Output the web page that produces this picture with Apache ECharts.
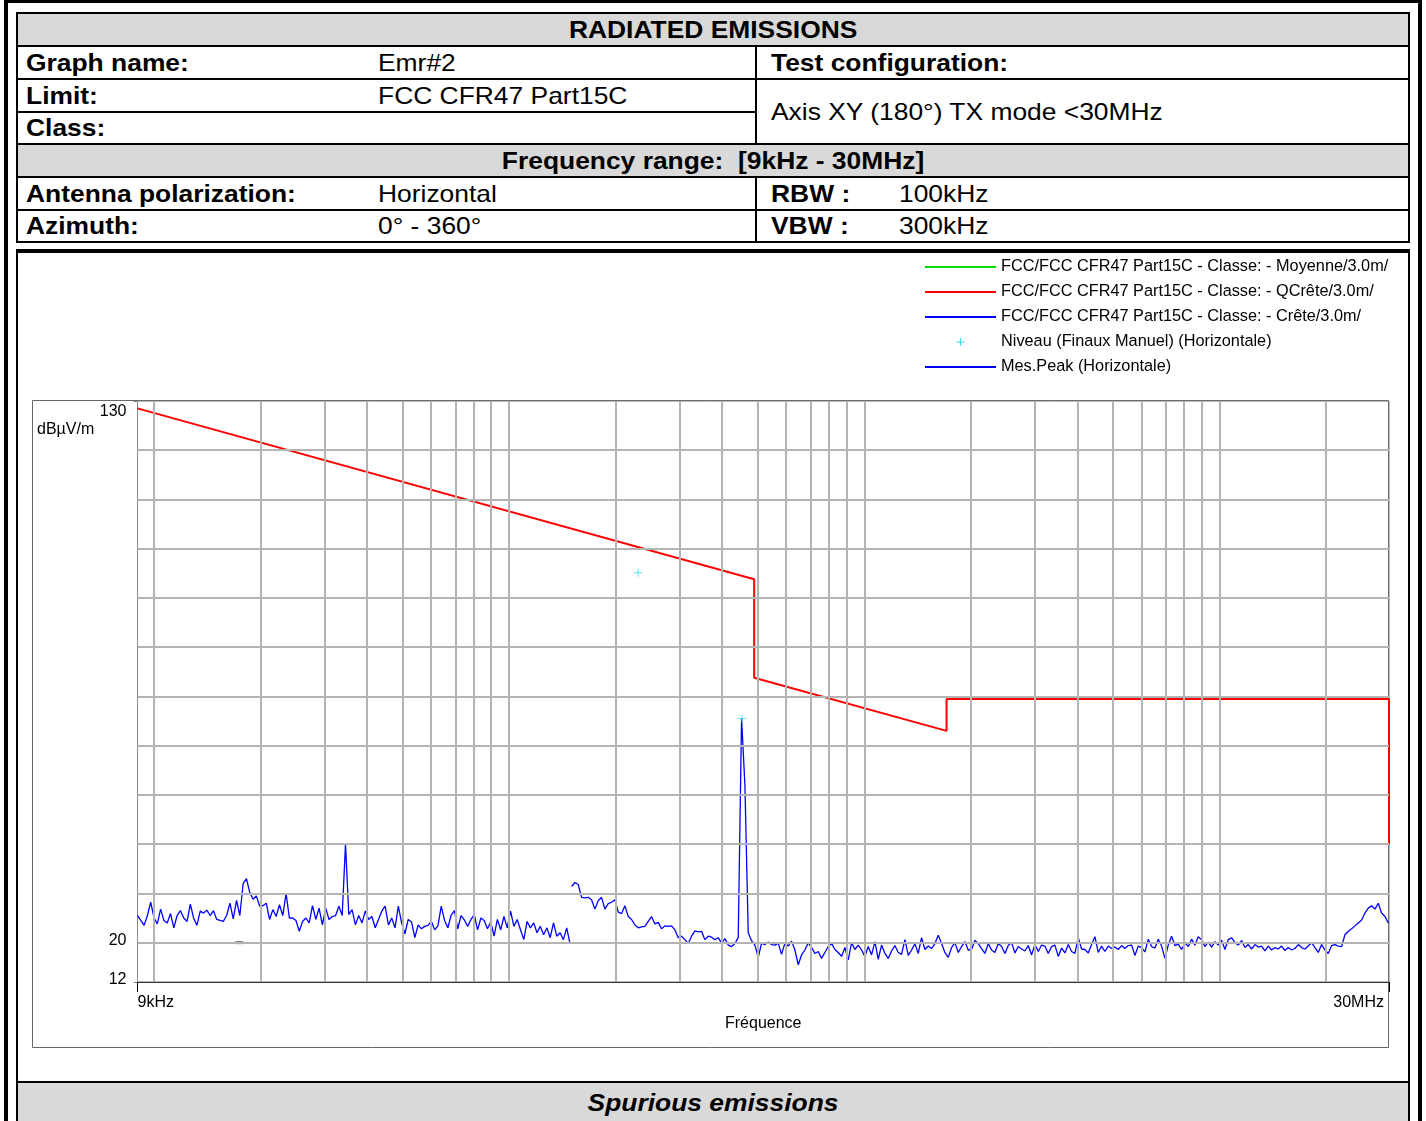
<!DOCTYPE html>
<html><head><meta charset="utf-8">
<script src="https://cdn.jsdelivr.net/npm/echarts@6/dist/echarts.min.js"></script>
<style>
html,body{margin:0;padding:0;background:#fff;}
body{width:1426px;height:1121px;overflow:hidden;position:relative;font-family:"Liberation Sans",Arial,sans-serif;}
.hl{position:absolute;height:2px;background:#000;}
.vl{position:absolute;width:2px;background:#000;}
.g{position:absolute;background:#d9d9d9;}
.t{position:absolute;font-size:24px;line-height:32px;height:32px;white-space:pre;color:#000;}
.t span{display:inline-block;transform:scaleX(1.1);transform-origin:left center;}
.c{text-align:center;}
.c span{transform-origin:center center;}
.b{font-weight:bold;}
#chart{position:absolute;left:0;top:0;width:1426px;height:1121px;z-index:5;}
</style></head>
<body>
<!-- outer frame -->
<div style="position:absolute;left:4px;top:0;width:1410px;height:1200px;border-left:4px solid #000;border-right:4px solid #000;border-top:3px solid #000;"></div>
<!-- header table -->
<div style="position:absolute;left:16px;top:12px;width:1394px;height:231px;border:2px solid #000;box-sizing:border-box;"></div>
<div class="g" style="left:18px;top:14px;width:1390px;height:31px;"></div>
<div class="hl" style="left:16px;top:45px;width:1394px;"></div>
<div class="hl" style="left:16px;top:78px;width:1394px;"></div>
<div class="hl" style="left:16px;top:111px;width:740px;"></div>
<div class="hl" style="left:16px;top:143px;width:1394px;"></div>
<div class="g" style="left:18px;top:145px;width:1390px;height:31px;"></div>
<div class="hl" style="left:16px;top:176px;width:1394px;"></div>
<div class="hl" style="left:16px;top:209px;width:1394px;"></div>
<div class="vl" style="left:755px;top:47px;height:96px;"></div>
<div class="vl" style="left:755px;top:178px;height:63px;"></div>

<div class="t c b" style="left:18px;top:14px;width:1390px;"><span>RADIATED EMISSIONS</span></div>
<div class="t b" style="left:26px;top:47px;"><span>Graph name:</span></div>
<div class="t" style="left:378px;top:47px;"><span>Emr#2</span></div>
<div class="t b" style="left:771px;top:47px;"><span>Test configuration:</span></div>
<div class="t b" style="left:26px;top:80px;"><span>Limit:</span></div>
<div class="t" style="left:378px;top:80px;"><span>FCC CFR47 Part15C</span></div>
<div class="t b" style="left:26px;top:112px;"><span>Class:</span></div>
<div class="t" style="left:771px;top:96px;"><span>Axis XY (180°) TX mode &lt;30MHz</span></div>
<div class="t c b" style="left:18px;top:145px;width:1390px;"><span>Frequency range:  [9kHz - 30MHz]</span></div>
<div class="t b" style="left:26px;top:178px;"><span>Antenna polarization:</span></div>
<div class="t" style="left:378px;top:178px;"><span>Horizontal</span></div>
<div class="t b" style="left:771px;top:178px;"><span>RBW :</span></div>
<div class="t" style="left:899px;top:178px;"><span>100kHz</span></div>
<div class="t b" style="left:26px;top:210px;"><span>Azimuth:</span></div>
<div class="t" style="left:378px;top:210px;"><span>0° - 360°</span></div>
<div class="t b" style="left:771px;top:210px;"><span>VBW :</span></div>
<div class="t" style="left:899px;top:210px;"><span>300kHz</span></div>

<!-- chart section frame -->
<div style="position:absolute;left:16px;top:249px;width:1394px;height:4px;background:#000;"></div>
<div class="vl" style="left:16px;top:249px;height:900px;"></div>
<div class="vl" style="left:1408px;top:249px;height:900px;"></div>
<div class="hl" style="left:16px;top:1081px;width:1394px;"></div>
<div class="g" style="left:18px;top:1083px;width:1390px;height:60px;"></div>
<div class="t c b" style="left:18px;top:1087px;width:1390px;font-style:italic;"><span>Spurious emissions</span></div>

<div id="chart"></div>
<script>
// ---------------- DATA ----------------
const legendNames = [
  'FCC/FCC CFR47 Part15C - Classe: - Moyenne/3.0m/',
  'FCC/FCC CFR47 Part15C - Classe: - QCrête/3.0m/',
  'FCC/FCC CFR47 Part15C - Classe: - Crête/3.0m/',
  'Niveau (Finaux Manuel) (Horizontale)',
  'Mes.Peak (Horizontale)'
];
const xTickLabels = ['9kHz', '30MHz'];
const yTickLabels = [12, 20, 130];

// QCrête limit (frequency in kHz, level in dBµV/m)
const limitFreqKHz = [9, 490, 490, 1705, 1705, 30000, 30000];
const limitLevels  = [128.5, 93.8, 73.8, 63.0, 69.5, 69.5, 40.0];

// Final manual levels (cyan markers)
const niveauFreqKHz = [230.8, 452.8];
const niveauLevels  = [95.1, 65.5];

// small grey dash on the trace plot
const dashFreqKHz = [17.4];
const dashLevels  = [20.0];

// Peak trace, band 1 (9 kHz - 148.5 kHz), log-spaced sweep points
const band1StartKHz = 9, band1StopKHz = 148.5;
const band1Levels = [
  25.5,24.5,23.5,25.5,28.2,25.0,23.8,26.8,24.5,24.0,
  25.9,23.0,25.5,26.5,25.0,24.3,27.8,25.0,23.5,26.4,
  26.0,26.6,25.5,26.5,24.7,24.5,24.3,25.5,28.0,24.8,
  28.6,25.5,32.0,33.0,30.2,28.8,29.5,27.4,27.5,28.0,
  24.7,26.7,25.3,27.7,25.5,30.0,25.0,25.0,24.5,22.3,
  24.3,25.0,24.0,27.5,24.7,27.0,23.6,27.0,24.7,25.3,
  25.5,27.4,25.5,40.0,25.7,
  26.7,23.6,25.5,24.0,26.4,24.7,25.3,23.0,24.7,26.4,
  27.4,23.6,25.0,23.0,27.4,24.0,21.8,24.7,24.2,21.0,
  23.6,22.8,23.3,23.5,24.3,22.6,23.4,27.4,24.5,23.0,
  25.6,26.5,22.8,25.5,24.6,23.3,24.7,25.7,22.6,25.0,
  24.5,22.8,24.2,21.3,24.7,22.6,25.3,23.0,26.4,23.3,
  24.7,22.6,20.6,24.3,23.0,24.0,22.0,23.3,21.6,23.0,
  21.0,24.0,21.3,22.0,20.6,23.0,19.8
];

// Peak trace, band 2 (150 kHz - 29.86 MHz), log-spaced sweep points
const band2StartKHz = 150, band2StopKHz = 29860;
const band2Levels = [
  31.4,32.2,31.8,29.2,29.1,29.2,28.7,26.8,28.5,29.2,
  26.8,27.9,28.2,28.7,26.2,25.9,27.5,25.3,24.7,23.6,
  23.0,23.2,23.3,24.3,25.3,23.8,24.1,22.8,23.4,23.3,
  23.4,22.6,21.0,21.3,20.6,19.8,21.3,22.4,22.2,22.3,
  20.6,21.3,21.1,20.6,21.0,19.9,20.8,19.5,19.2,19.8,
  21.0,65.5,52.0,22.0,20.4,19.5,17.0,19.9,19.6,20.1,
  19.6,19.5,19.9,17.6,19.9,19.3,
  20.3,18.5,15.5,17.5,18.5,20.0,19.0,17.8,18.2,16.8,
  18.0,19.2,19.8,18.6,18.0,17.2,19.0,16.5,20.0,18.6,
  19.5,18.5,17.2,19.2,17.5,20.2,16.6,19.5,17.8,16.8,
  18.3,19.4,18.0,17.6,20.6,17.4,18.5,19.8,17.8,21.0,
  18.6,19.3,18.8,19.8,21.5,19.8,18.0,17.0,19.0,20.0,
  18.0,19.2,20.2,18.5,18.6,20.5,19.8,18.8,17.8,19.8,
  18.5,18.0,19.8,19.2,
  17.8,19.4,20.0,17.9,19.2,18.7,18.3,19.4,17.5,19.6,
  18.2,19.5,19.3,17.8,19.2,19.5,17.2,18.9,17.9,19.6,
  18.2,17.8,21.0,18.7,18.6,17.9,19.6,21.2,18.0,19.3,
  18.2,19.3,18.8,19.1,18.6,19.4,18.8,19.4,19.5,17.4,
  19.3,19.0,18.1,20.7,19.2,18.9,20.7,19.3,16.8,19.5,
  21.3,19.4,19.7,18.6,19.9,19.2,20.7,19.5,21.2,
  20.6,19.2,20.1,19.1,20.2,19.5,20.5,18.6,20.6,21.0,
  20.0,19.5,20.4,19.0,19.6,18.7,19.6,19.1,19.3,18.3,
  19.3,18.5,19.0,18.7,19.3,18.4,19.0,18.5,18.8,19.6,
  19.0,18.7,19.3,20.0,19.0,18.0,19.6,18.5,17.8,19.4,
  19.6,19.3,19.2,21.6,22.3,22.8,23.4,24.0,24.6,26.0,
  27.0,27.5,26.8,28.0,26.0,25.3,24.0
];

// grid lines
const gridFreqKHz = [10,20,30,40,50,60,70,80,90,100,200,300,400,500,600,700,800,900,
  1000,2000,3000,4000,5000,6000,7000,8000,9000,10000,20000];
const gridLevels = [20,30,40,50,60,70,80,90,100,110,120];

// ---------------- BUILD ----------------
const LOG = k => Math.log10(k * 1000);   // kHz -> log10(Hz)
const xMin = LOG(9), xMax = LOG(30000);
const yMin = 12, yMax = 130;
function sweep(f0, f1, vals) {
  const n = vals.length;
  return vals.map((v, i) => [LOG(f0 * Math.pow(f1 / f0, i / (n - 1))), v]);
}
const pairs = (fs, vs) => fs.map((f, i) => [LOG(f), vs[i]]);

const plus = 'path://M3.5,0H4.5V3.5H8V4.5H4.5V8H3.5V4.5H0V3.5H3.5Z';
const FONT = '"Liberation Sans", Arial, sans-serif';

const chart = echarts.init(document.getElementById('chart'), null, {renderer: 'canvas'});
chart.setOption({
  animation: false,
  backgroundColor: 'transparent',
  textStyle: {fontFamily: FONT},
  grid: {left: 137.5, top: 401, width: 1251.5, height: 581, show: true,
         borderColor: '#777', borderWidth: 1, backgroundColor: 'transparent'},
  legend: {
    orient: 'vertical', left: 924, top: 259, padding: 0, itemWidth: 71, itemHeight: 8, itemGap: 9,
    selectedMode: false,
    itemStyle: {opacity: 0},
    data: legendNames.map((n, i) => i === 3 ? {name: n, itemStyle: {opacity: 1}} : {name: n}),
    textStyle: {fontSize: 16.3, lineHeight: 16, color: '#000', fontFamily: FONT}
  },
  graphic: [
    {type: 'rect', shape: {x: 32.5, y: 400.5, width: 1356, height: 647},
     style: {fill: 'none', stroke: '#666', lineWidth: 1}, z: -1, silent: true},
    {type: 'text', left: 37, top: 422,
     style: {text: 'dBµV/m', fontSize: 16, fill: '#000', font: '16px ' + FONT}, silent: true}
  ],
  xAxis: {
    type: 'value', min: xMin, max: xMax,
    name: 'Fréquence', nameLocation: 'middle', nameGap: 28,
    nameTextStyle: {fontSize: 16, color: '#000'},
    splitLine: {show: false},
    axisLine: {show: true, lineStyle: {color: '#333', width: 1}},
    axisTick: {show: true, customValues: [xMin, xMax], length: 10, lineStyle: {color: '#000'}},
    axisLabel: {customValues: [xMin, xMax], fontSize: 16, color: '#000', margin: 13,
      padding: [0, 5, 0, 0],
      formatter: v => (Math.abs(v - xMin) < 1e-6 ? xTickLabels[0] : xTickLabels[1]),
      alignMinLabel: 'left', alignMaxLabel: 'right'}
  },
  yAxis: {
    type: 'value', min: yMin, max: yMax,
    splitLine: {show: false},
    axisLine: {show: true, lineStyle: {color: '#888', width: 1}},
    axisTick: {show: true, customValues: [yMin, yMax], length: 4, lineStyle: {color: '#888'}},
    axisLabel: {customValues: yTickLabels, fontSize: 16, lineHeight: 4, color: '#000', margin: 11,
      padding: [9, 0, 0, 0],
      verticalAlign: 'bottom', verticalAlignMaxLabel: 'top'}
  },
  series: [
    {type: 'line', name: 'grid', data: [[xMin, yMin], [xMax, yMin]], symbol: 'none', silent: true, z: 1,
     lineStyle: {opacity: 0},
     markLine: {silent: true, symbol: ['none', 'none'], label: {show: false}, animation: false,
       lineStyle: {color: '#b4b4b4', width: 2, type: 'solid'},
       emphasis: {disabled: true},
       data: gridFreqKHz.map(f => ({xAxis: LOG(f)})).concat(gridLevels.map(v => ({yAxis: v})))}},
    {type: 'line', name: legendNames[0], data: [], symbol: 'none',
     lineStyle: {color: '#00e000', width: 2}, itemStyle: {color: '#00e000'}},
    {type: 'line', name: legendNames[2], data: [], symbol: 'none',
     lineStyle: {color: '#0000ff', width: 2}, itemStyle: {color: '#0000ff'}},
    {type: 'line', name: legendNames[4], data: sweep(band1StartKHz, band1StopKHz, band1Levels),
     symbol: 'none', z: 3, lineStyle: {color: '#0000ff', width: 1.3}, itemStyle: {color: '#0000ff'}},
    {type: 'line', name: legendNames[4], data: sweep(band2StartKHz, band2StopKHz, band2Levels),
     symbol: 'none', z: 3, lineStyle: {color: '#0000ff', width: 1.3}, itemStyle: {color: '#0000ff'}},
    {type: 'line', name: legendNames[1], data: pairs(limitFreqKHz, limitLevels), symbol: 'none', z: 4,
     lineStyle: {color: '#ff0000', width: 2}, itemStyle: {color: '#ff0000'}},
    {type: 'scatter', name: 'dash', data: pairs(dashFreqKHz, dashLevels), symbol: 'rect',
     symbolSize: [8, 3], z: 4, itemStyle: {color: '#555'}, silent: true},
    {type: 'scatter', name: legendNames[3], data: pairs(niveauFreqKHz, niveauLevels), symbol: plus,
     symbolSize: 8, z: 5, itemStyle: {color: '#33ddf0'}}
  ]
});
</script>
</body></html>
